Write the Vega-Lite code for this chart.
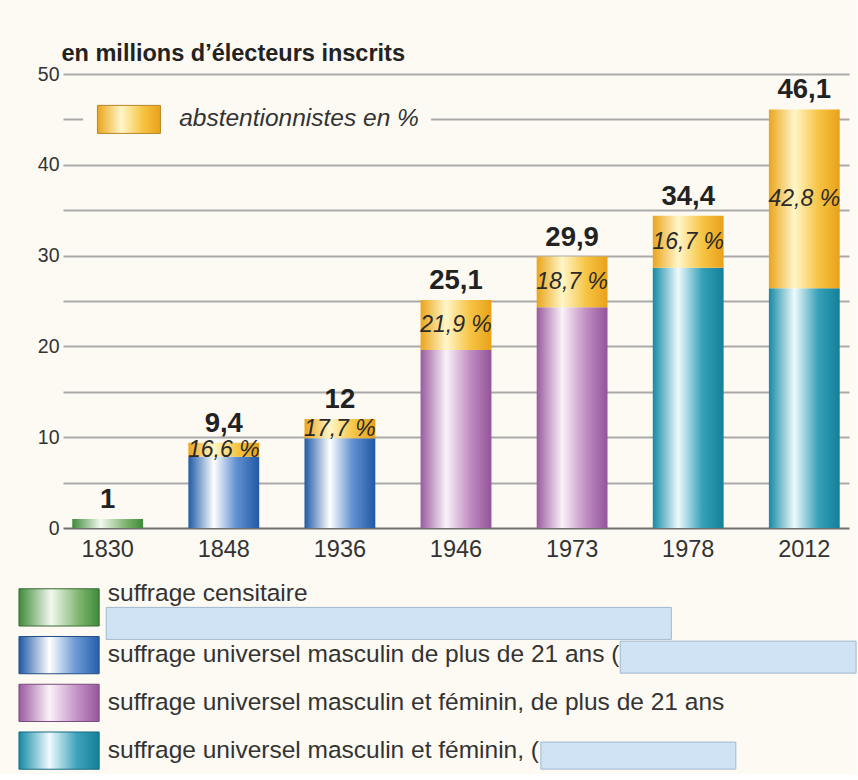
{
  "$schema": "https://vega.github.io/schema/vega-lite/v6.json",
  "background": "#fcfaf2",
  "padding": {"left": 18, "top": 41, "right": 0, "bottom": 0},
  "config": {"font": "Liberation Sans", "view": {"stroke": null}, "concat": {"spacing": 20}},
  "datasets": {
    "barres": [
      {"annee": "1830", "suffrage": "censitaire", "bas": 0, "haut": 1},
      {"annee": "1848", "suffrage": "masculin", "bas": 0, "haut": 7.84},
      {"annee": "1848", "suffrage": "abstention", "bas": 7.84, "haut": 9.4},
      {"annee": "1936", "suffrage": "masculin", "bas": 0, "haut": 9.88},
      {"annee": "1936", "suffrage": "abstention", "bas": 9.88, "haut": 12},
      {"annee": "1946", "suffrage": "mixte21", "bas": 0, "haut": 19.6},
      {"annee": "1946", "suffrage": "abstention", "bas": 19.6, "haut": 25.1},
      {"annee": "1973", "suffrage": "mixte21", "bas": 0, "haut": 24.3},
      {"annee": "1973", "suffrage": "abstention", "bas": 24.3, "haut": 29.9},
      {"annee": "1978", "suffrage": "mixte18", "bas": 0, "haut": 28.65},
      {"annee": "1978", "suffrage": "abstention", "bas": 28.65, "haut": 34.4},
      {"annee": "2012", "suffrage": "mixte18", "bas": 0, "haut": 26.4},
      {"annee": "2012", "suffrage": "abstention", "bas": 26.4, "haut": 46.1}
    ],
    "etiquettes": [
      {"annee": "1830", "inscrits": 1, "votants": 1, "total": "1", "pct": null},
      {"annee": "1848", "inscrits": 9.4, "votants": 7.84, "total": "9,4", "pct": "16,6 %"},
      {"annee": "1936", "inscrits": 12, "votants": 9.88, "total": "12", "pct": "17,7 %"},
      {"annee": "1946", "inscrits": 25.1, "votants": 19.6, "total": "25,1", "pct": "21,9 %"},
      {"annee": "1973", "inscrits": 29.9, "votants": 24.3, "total": "29,9", "pct": "18,7 %"},
      {"annee": "1978", "inscrits": 34.4, "votants": 28.65, "total": "34,4", "pct": "16,7 %"},
      {"annee": "2012", "inscrits": 46.1, "votants": 26.4, "total": "46,1", "pct": "42,8 %"}
    ],
    "legende": [
      {"cle": "A", "texte": "suffrage censitaire"},
      {"cle": "B", "texte": "suffrage universel masculin de plus de 21 ans ("},
      {"cle": "C", "texte": "suffrage universel masculin et féminin, de plus de 21 ans"},
      {"cle": "D", "texte": "suffrage universel masculin et féminin, ("}
    ],
    "note": [{"libelle": "abstentionnistes en %"}]
  },
  "vconcat": [
    {
      "width": 786,
      "height": 454,
      "layer": [
        {
          "data": {"name": "barres"},
          "transform": [{"filter": "datum.suffrage === 'censitaire'"}],
          "mark": {"type": "bar", "color": {"gradient": "linear", "x1": 0, "y1": 0, "x2": 1, "y2": 0, "stops": [{"offset": 0, "color": "#3f8a3a"}, {"offset": 0.4, "color": "#f2f9ee"}, {"offset": 0.75, "color": "#7fb56f"}, {"offset": 1, "color": "#3f8a3a"}]}},
          "encoding": {
            "x": {"field": "annee", "type": "nominal", "scale": {"domain": ["1830", "1848", "1936", "1946", "1973", "1978", "2012"], "paddingInner": 0.39, "paddingOuter": 0.08}, "axis": {"title": null, "domain": false, "ticks": false, "labelAngle": 0, "labelFontSize": 23.5, "labelColor": "#333", "labelPadding": 9}},
            "y": {"field": "haut", "type": "quantitative", "scale": {"domain": [0, 50], "nice": false}, "axis": {"values": [0, 5, 10, 15, 20, 25, 30, 35, 40, 45, 50], "labelExpr": "datum.value % 10 === 0 ? datum.label : ''", "grid": true, "gridColor": {"condition": {"test": "datum.value === 0", "value": "#6f6f6f"}, "value": "#a9a9a9"}, "gridWidth": 2, "domain": false, "ticks": false, "labelFontSize": 19.5, "labelColor": "#333", "labelPadding": 4, "title": "en millions d’électeurs inscrits", "titleAngle": 0, "titleAlign": "left", "titleBaseline": "alphabetic", "titleX": -2, "titleY": -14, "titleFontSize": 23.5, "titleFontWeight": "bold", "titleColor": "#222"}},
            "y2": {"field": "bas"}
          }
        },
        {
          "data": {"name": "barres"},
          "transform": [{"filter": "datum.suffrage === 'masculin'"}],
          "mark": {"type": "bar", "color": {"gradient": "linear", "x1": 0, "y1": 0, "x2": 1, "y2": 0, "stops": [{"offset": 0, "color": "#1f5aa6"}, {"offset": 0.36, "color": "#ffffff"}, {"offset": 0.68, "color": "#5f90d0"}, {"offset": 1, "color": "#2259a5"}]}},
          "encoding": {"x": {"field": "annee", "type": "nominal"}, "y": {"field": "haut", "type": "quantitative"}, "y2": {"field": "bas"}}
        },
        {
          "data": {"name": "barres"},
          "transform": [{"filter": "datum.suffrage === 'mixte21'"}],
          "mark": {"type": "bar", "color": {"gradient": "linear", "x1": 0, "y1": 0, "x2": 1, "y2": 0, "stops": [{"offset": 0, "color": "#9a5aa0"}, {"offset": 0.36, "color": "#faf2f8"}, {"offset": 0.7, "color": "#c08cc2"}, {"offset": 1, "color": "#93549a"}]}},
          "encoding": {"x": {"field": "annee", "type": "nominal"}, "y": {"field": "haut", "type": "quantitative"}, "y2": {"field": "bas"}}
        },
        {
          "data": {"name": "barres"},
          "transform": [{"filter": "datum.suffrage === 'mixte18'"}],
          "mark": {"type": "bar", "color": {"gradient": "linear", "x1": 0, "y1": 0, "x2": 1, "y2": 0, "stops": [{"offset": 0, "color": "#158aa5"}, {"offset": 0.36, "color": "#eefafc"}, {"offset": 0.7, "color": "#35a0b8"}, {"offset": 1, "color": "#137f99"}]}},
          "encoding": {"x": {"field": "annee", "type": "nominal"}, "y": {"field": "haut", "type": "quantitative"}, "y2": {"field": "bas"}}
        },
        {
          "data": {"name": "barres"},
          "transform": [{"filter": "datum.suffrage === 'abstention'"}],
          "mark": {"type": "bar", "color": {"gradient": "linear", "x1": 0, "y1": 0, "x2": 1, "y2": 0, "stops": [{"offset": 0, "color": "#eaa51c"}, {"offset": 0.36, "color": "#fff6c8"}, {"offset": 0.7, "color": "#f6c443"}, {"offset": 1, "color": "#e9a11a"}]}},
          "encoding": {"x": {"field": "annee", "type": "nominal"}, "y": {"field": "haut", "type": "quantitative"}, "y2": {"field": "bas"}}
        },
        {
          "data": {"name": "etiquettes"},
          "mark": {"type": "text", "fontSize": 27.5, "fontWeight": "bold", "baseline": "bottom", "dy": -5, "color": "#222"},
          "encoding": {"x": {"field": "annee", "type": "nominal"}, "y": {"field": "inscrits", "type": "quantitative"}, "text": {"field": "total"}}
        },
        {
          "data": {"name": "etiquettes"},
          "transform": [{"filter": "datum.pct != null"}, {"calculate": "(datum.votants + datum.inscrits) / 2", "as": "milieu"}],
          "mark": {"type": "text", "fontSize": 23, "fontStyle": "italic", "baseline": "middle", "color": "#2a2a2a"},
          "encoding": {"x": {"field": "annee", "type": "nominal"}, "y": {"field": "milieu", "type": "quantitative"}, "text": {"field": "pct"}}
        },
        {
          "data": {"name": "note"},
          "mark": {"type": "point", "shape": "M-17.4,-0.45H17.4V0.45H-17.4Z", "size": 400, "filled": true, "color": "#fcfaf2", "opacity": 1, "strokeWidth": 0},
          "encoding": {"x": {"datum": "1848", "type": "nominal", "bandPosition": 0.97}, "y": {"datum": 45, "type": "quantitative"}}
        },
        {
          "data": {"name": "note"},
          "mark": {"type": "point", "shape": "M-3.15,-1.4H3.15V1.4H-3.15Z", "size": 400, "filled": true, "opacity": 1, "stroke": "#b8862a", "strokeWidth": 1, "color": {"gradient": "linear", "x1": 0, "y1": 0, "x2": 1, "y2": 0, "stops": [{"offset": 0, "color": "#eaa51c"}, {"offset": 0.38, "color": "#fff6c8"}, {"offset": 0.72, "color": "#f6c443"}, {"offset": 1, "color": "#e9a11a"}]}},
          "encoding": {"x": {"datum": "1830", "type": "nominal", "bandPosition": 0.8}, "y": {"datum": 45, "type": "quantitative"}}
        },
        {
          "data": {"name": "note"},
          "mark": {"type": "text", "fontSize": 24.5, "fontStyle": "italic", "align": "left", "baseline": "middle", "color": "#333"},
          "encoding": {"x": {"datum": "1848", "type": "nominal", "bandPosition": -0.13}, "y": {"datum": 45, "type": "quantitative"}, "text": {"field": "libelle"}}
        }
      ]
    },
    {
      "width": 786,
      "height": 190,
      "data": {"name": "legende"},
      "encoding": {
        "y": {"field": "cle", "type": "nominal", "scale": {"type": "band", "paddingInner": 0.22, "paddingOuter": 0.1}, "axis": null}
      },
      "layer": [
        {
          "transform": [{"filter": "datum.cle === 'A'"}],
          "mark": {"type": "bar", "stroke": "#3a6b34", "strokeWidth": 1, "color": {"gradient": "linear", "x1": 0, "y1": 0, "x2": 1, "y2": 0, "stops": [{"offset": 0, "color": "#3f8a3a"}, {"offset": 0.4, "color": "#f2f9ee"}, {"offset": 0.75, "color": "#7fb56f"}, {"offset": 1, "color": "#3f8a3a"}]}},
          "encoding": {"x": {"datum": -5.6, "type": "quantitative", "scale": {"domain": [0, 100]}, "axis": null}, "x2": {"datum": 4.6}}
        },
        {
          "transform": [{"filter": "datum.cle === 'B'"}],
          "mark": {"type": "bar", "stroke": "#254f85", "strokeWidth": 1, "color": {"gradient": "linear", "x1": 0, "y1": 0, "x2": 1, "y2": 0, "stops": [{"offset": 0, "color": "#1f5aa6"}, {"offset": 0.38, "color": "#ffffff"}, {"offset": 0.7, "color": "#6e9bd6"}, {"offset": 1, "color": "#245fac"}]}},
          "encoding": {"x": {"datum": -5.6, "type": "quantitative"}, "x2": {"datum": 4.6}}
        },
        {
          "transform": [{"filter": "datum.cle === 'C'"}],
          "mark": {"type": "bar", "stroke": "#7a4a7e", "strokeWidth": 1, "color": {"gradient": "linear", "x1": 0, "y1": 0, "x2": 1, "y2": 0, "stops": [{"offset": 0, "color": "#9a5aa0"}, {"offset": 0.38, "color": "#faf2f8"}, {"offset": 0.72, "color": "#c593c6"}, {"offset": 1, "color": "#96569c"}]}},
          "encoding": {"x": {"datum": -5.6, "type": "quantitative"}, "x2": {"datum": 4.6}}
        },
        {
          "transform": [{"filter": "datum.cle === 'D'"}],
          "mark": {"type": "bar", "stroke": "#146a80", "strokeWidth": 1, "color": {"gradient": "linear", "x1": 0, "y1": 0, "x2": 1, "y2": 0, "stops": [{"offset": 0, "color": "#158aa5"}, {"offset": 0.38, "color": "#f0fbfd"}, {"offset": 0.72, "color": "#3ea3bb"}, {"offset": 1, "color": "#137f99"}]}},
          "encoding": {"x": {"datum": -5.6, "type": "quantitative"}, "x2": {"datum": 4.6}}
        },
        {
          "transform": [{"filter": "datum.cle === 'A'"}],
          "mark": {"type": "text", "align": "left", "baseline": "middle", "fontSize": 24.5, "color": "#333", "dy": -13},
          "encoding": {"x": {"datum": 5.7, "type": "quantitative"}, "text": {"field": "texte"}}
        },
        {
          "transform": [{"filter": "datum.cle !== 'A'"}],
          "mark": {"type": "text", "align": "left", "baseline": "middle", "fontSize": 24.5, "color": "#333"},
          "encoding": {"x": {"datum": 5.7, "type": "quantitative"}, "text": {"field": "texte"}}
        },
        {
          "transform": [{"filter": "datum.cle === 'A'"}],
          "mark": {"type": "bar", "color": "#cfe3f4", "stroke": "#9fb8cf", "strokeWidth": 1, "height": 32, "yOffset": 16},
          "encoding": {"x": {"datum": 5.5, "type": "quantitative"}, "x2": {"datum": 77.4}}
        },
        {
          "transform": [{"filter": "datum.cle === 'B'"}],
          "mark": {"type": "bar", "color": "#cfe3f4", "stroke": "#9fb8cf", "strokeWidth": 1, "height": 32, "yOffset": 2},
          "encoding": {"x": {"datum": 70.9, "type": "quantitative"}, "x2": {"datum": 100.9}}
        },
        {
          "transform": [{"filter": "datum.cle === 'D'"}],
          "mark": {"type": "bar", "color": "#cfe3f4", "stroke": "#9fb8cf", "strokeWidth": 1, "height": 27, "yOffset": 5},
          "encoding": {"x": {"datum": 60.8, "type": "quantitative"}, "x2": {"datum": 85.6}}
        }
      ]
    }
  ]
}
